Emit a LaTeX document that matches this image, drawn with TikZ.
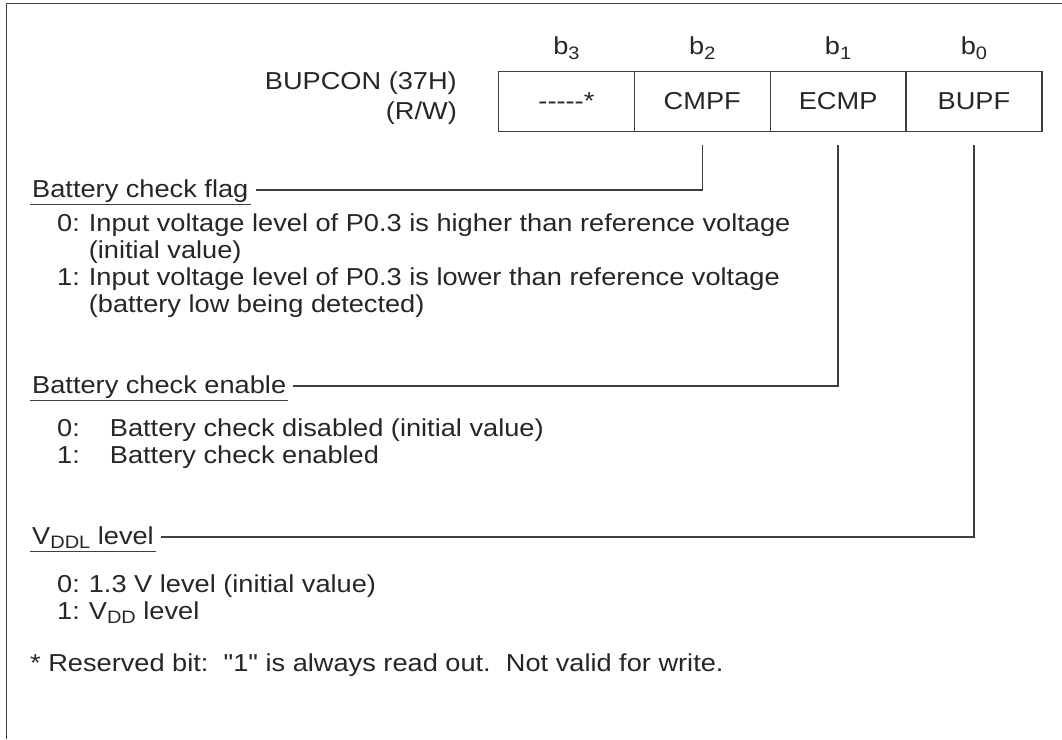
\documentclass[tikz,border=0pt]{standalone}
\usepackage{fontspec}
\setmainfont{Liberation Sans}[Ligatures=TeXOff, FakeStretch=1.11]
\usetikzlibrary{positioning}

\tikzset{
  every node/.style={font=\fontsize{24.5}{27}\selectfont, text=black!85},
  cell/.style={draw=black!75, line width=1.3pt, minimum width=135.85pt, minimum height=60pt,
    inner sep=0pt, outer sep=0pt},
  bitlbl/.style={inner sep=0pt},
  head/.style={inner xsep=2pt, inner ysep=1pt, text depth=6pt, anchor=base west},
  entry/.style={inner sep=0pt, anchor=base west},
  wire/.style={draw=black!75, line width=1.3pt},
  uline/.style={draw=black!75, line width=1pt},
}
\newcommand{\bitsub}[1]{\raisebox{-0.35ex}{\fontsize{18}{18}\selectfont #1}}

\begin{document}
\begin{tikzpicture}[x=1pt, y=-1pt]
  \useasboundingbox (0,0) rectangle (1062,739);
  \draw[wire] (6.5,739) -- (6.5,3.5) -- (1062,3.5);

  % register cells
  \node[cell] (c3) at (566.4,101.5) {-----*};
  \node[cell, right=0pt of c3] (c2) {CMPF};
  \node[cell, right=0pt of c2] (c1) {ECMP};
  \node[cell, right=0pt of c1] (c0) {BUPF};
  \foreach \i in {3,2,1,0}
    \node[bitlbl, above=17pt of c\i.north, anchor=base] (b\i) {b\bitsub{\i}};

  \node[entry, anchor=base east] (regname) at (457,89) {BUPCON (37H)};
  \node[entry, anchor=base east] (regrw) at (457,119) {(R/W)};

  % Battery check flag
  \node[head] (flag) at (30,197) {Battery check flag};
  \draw[uline] (flag.south west) -- (flag.south east);
  \node[entry] (flagzero) at (57,231) {\begin{tabular}[t]{@{}l@{\hspace{9pt}}l@{}}
    0: & Input voltage level of P0.3 is higher than reference voltage\\
       & (initial value)\\
    1: & Input voltage level of P0.3 is lower than reference voltage\\
       & (battery low being detected)\end{tabular}};

  % Battery check enable
  \node[head] (enable) at (30,393) {Battery check enable};
  \draw[uline] (enable.south west) -- (enable.south east);
  \node[entry] (enablezero) at (57,436) {\begin{tabular}[t]{@{}l@{\hspace{30pt}}l@{}}
    0: & Battery check disabled (initial value)\\
    1: & Battery check enabled\end{tabular}};

  % VDDL level
  \node[head] (vddl) at (30,544) {V\bitsub{DDL} level};
  \draw[uline] (vddl.south west) -- (vddl.south east);
  \node[entry] (vddlzero) at (57,592) {\begin{tabular}[t]{@{}l@{\hspace{9pt}}l@{}}
    0: & 1.3 V level (initial value)\\
    1: & V\bitsub{DD} level\end{tabular}};

  \node[entry] (note) at (30,671) {* Reserved bit:\ \ "1" is always read out.\ \ Not valid for write.};

  % connectors
  \draw[wire] ([yshift=-13pt]c2.south) |- ([xshift=5pt, yshift=7pt]flag.base east);
  \draw[wire] ([yshift=-13pt]c1.south) |- ([xshift=5pt, yshift=7pt]enable.base east);
  \draw[wire] ([yshift=-13pt]c0.south) |- ([xshift=5pt, yshift=7pt]vddl.base east);
\end{tikzpicture}
\end{document}
